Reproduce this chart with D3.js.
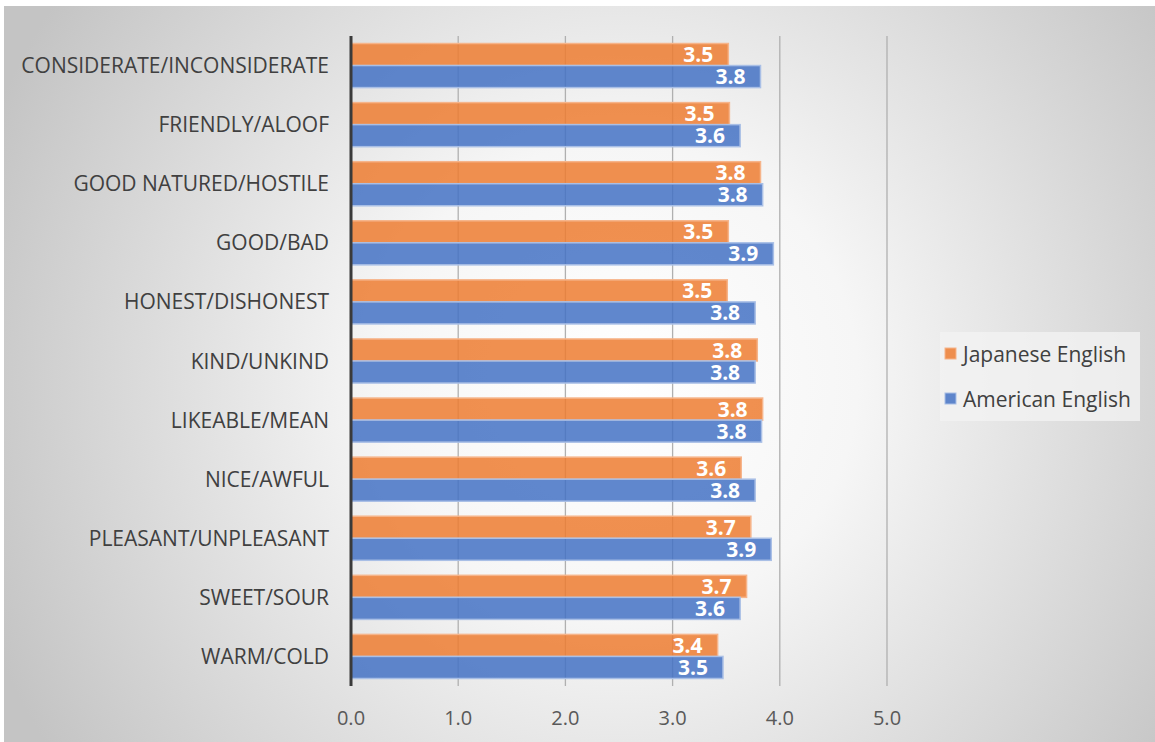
<!DOCTYPE html>
<html>
<head>
<meta charset="utf-8">
<script src="https://cdn.jsdelivr.net/npm/d3@7"></script>
<style>
  body { margin:0; background:#fff; }
  svg { display:block; font-family: "Open Sans", "Liberation Sans", sans-serif; }
</style>
</head>
<body>
<svg></svg>
<script>
var categories = ["CONSIDERATE/INCONSIDERATE","FRIENDLY/ALOOF","GOOD NATURED/HOSTILE",
  "GOOD/BAD","HONEST/DISHONEST","KIND/UNKIND","LIKEABLE/MEAN","NICE/AWFUL",
  "PLEASANT/UNPLEASANT","SWEET/SOUR","WARM/COLD"];
var japanese = [3.52,3.53,3.82,3.52,3.51,3.79,3.84,3.64,3.73,3.69,3.42];
var american = [3.82,3.63,3.84,3.94,3.77,3.77,3.83,3.77,3.92,3.63,3.47];
var seriesNames = ["Japanese English","American English"];
var ticks = [0,1,2,3,4,5];

var screen = { width:1155, height:742 };
var svg = d3.select("svg")
            .attr("width",screen.width)
            .attr("height",screen.height);

// background with radial gradient
var defs = svg.append("defs");
var grad = defs.append("radialGradient")
  .attr("id","bg")
  .attr("gradientUnits","userSpaceOnUse")
  .attr("cx",620).attr("cy",380).attr("r",680);
grad.append("stop").attr("offset","0%").attr("stop-color","#ffffff");
grad.append("stop").attr("offset","35%").attr("stop-color","#f6f6f6");
grad.append("stop").attr("offset","100%").attr("stop-color","#c4c4c4");

svg.append("rect")
  .attr("x",4).attr("y",6)
  .attr("width",screen.width-4).attr("height",screen.height-6)
  .attr("fill","url(#bg)");

var margins = { top:36, bottom:56, left:351, right:268 };
var width = screen.width - margins.left - margins.right;
var height = screen.height - margins.top - margins.bottom;

var xScale = d3.scaleLinear().domain([0,5]).range([0,width]);
var yScale = d3.scaleBand().domain(categories).range([0,height])
  .paddingInner(0.254).paddingOuter(0.127);

var colors = d3.scaleOrdinal().domain(seriesNames).range(["#ED7D31","#4472C4"]);
var strokes = d3.scaleOrdinal().domain(seriesNames).range(["#f6b48a","#a9bfe6"]);

var plotLand = svg.append("g")
  .attr("transform","translate("+margins.left+","+margins.top+")");

// gridlines
plotLand.append("g").selectAll("line")
  .data(ticks.slice(1))
  .enter().append("line")
  .attr("x1",function(d){return xScale(d);})
  .attr("x2",function(d){return xScale(d);})
  .attr("y1",0).attr("y2",height)
  .attr("stroke","#b0b0b0").attr("stroke-width",1.3);

var rows = categories.map(function(c,i){
  return { cat:c, values:[
    { name:seriesNames[0], v:japanese[i] },
    { name:seriesNames[1], v:american[i] } ] };
});
var barH = yScale.bandwidth()/2;

var groups = plotLand.selectAll(".row")
  .data(rows).enter().append("g")
  .attr("class","row")
  .attr("transform",function(d){return "translate(0,"+yScale(d.cat)+")";});

groups.selectAll("rect")
  .data(function(d){return d.values;})
  .enter().append("rect")
  .attr("x",0)
  .attr("y",function(d,i){return i*barH;})
  .attr("width",function(d){return xScale(d.v);})
  .attr("height",barH)
  .attr("fill",function(d){return colors(d.name);})
  .attr("fill-opacity",0.85)
  .attr("stroke",function(d){return strokes(d.name);})
  .attr("stroke-width",1.5);

groups.selectAll("text")
  .data(function(d){return d.values;})
  .enter().append("text")
  .attr("x",function(d){return xScale(d.v)-15;})
  .attr("y",function(d,i){return i*barH+barH/2;})
  .attr("dy","0.36em")
  .attr("text-anchor","end")
  .attr("fill","#ffffff")
  .attr("font-weight","bold")
  .attr("font-size","21px")
  .text(function(d){return d3.format(".1f")(d.v);});

// left axis line
plotLand.append("line")
  .attr("x1",0).attr("x2",0).attr("y1",0).attr("y2",height)
  .attr("stroke","#3a3a3a").attr("stroke-width",3);

// category labels
plotLand.append("g").selectAll("text")
  .data(categories).enter().append("text")
  .attr("x",-22)
  .attr("y",function(d){return yScale(d)+yScale.bandwidth()/2;})
  .attr("dy","0.36em")
  .attr("text-anchor","end")
  .attr("fill","#404040")
  .attr("font-size","21px")
  .text(function(d){return d;});

// x tick labels
plotLand.append("g").selectAll("text")
  .data(ticks).enter().append("text")
  .attr("x",function(d){return xScale(d);})
  .attr("y",height+32)
  .attr("dy","0.36em")
  .attr("text-anchor","middle")
  .attr("fill","#595959")
  .attr("font-size","20px")
  .text(function(d){return d3.format(".1f")(d);});

// legend
var legend = svg.append("g")
  .attr("transform","translate(940,332)");
legend.append("rect")
  .attr("width",200).attr("height",89)
  .attr("fill","#f2f2f2").attr("fill-opacity",0.8);
var legendLines = legend.selectAll(".legendLine")
  .data(seriesNames).enter().append("g")
  .attr("class","legendLine")
  .attr("transform",function(d,i){return "translate(5,"+(22+i*45)+")";});
legendLines.append("rect")
  .attr("x",0).attr("y",-6)
  .attr("width",11).attr("height",11)
  .attr("fill",function(d){return colors(d);})
  .attr("fill-opacity",0.85)
  .attr("stroke",function(d){return strokes(d);});
legendLines.append("text")
  .attr("x",18).attr("y",0)
  .attr("dy","0.36em")
  .attr("fill","#404040")
  .attr("font-size","21px")
  .text(function(d){return d;});
</script>
</body>
</html>
